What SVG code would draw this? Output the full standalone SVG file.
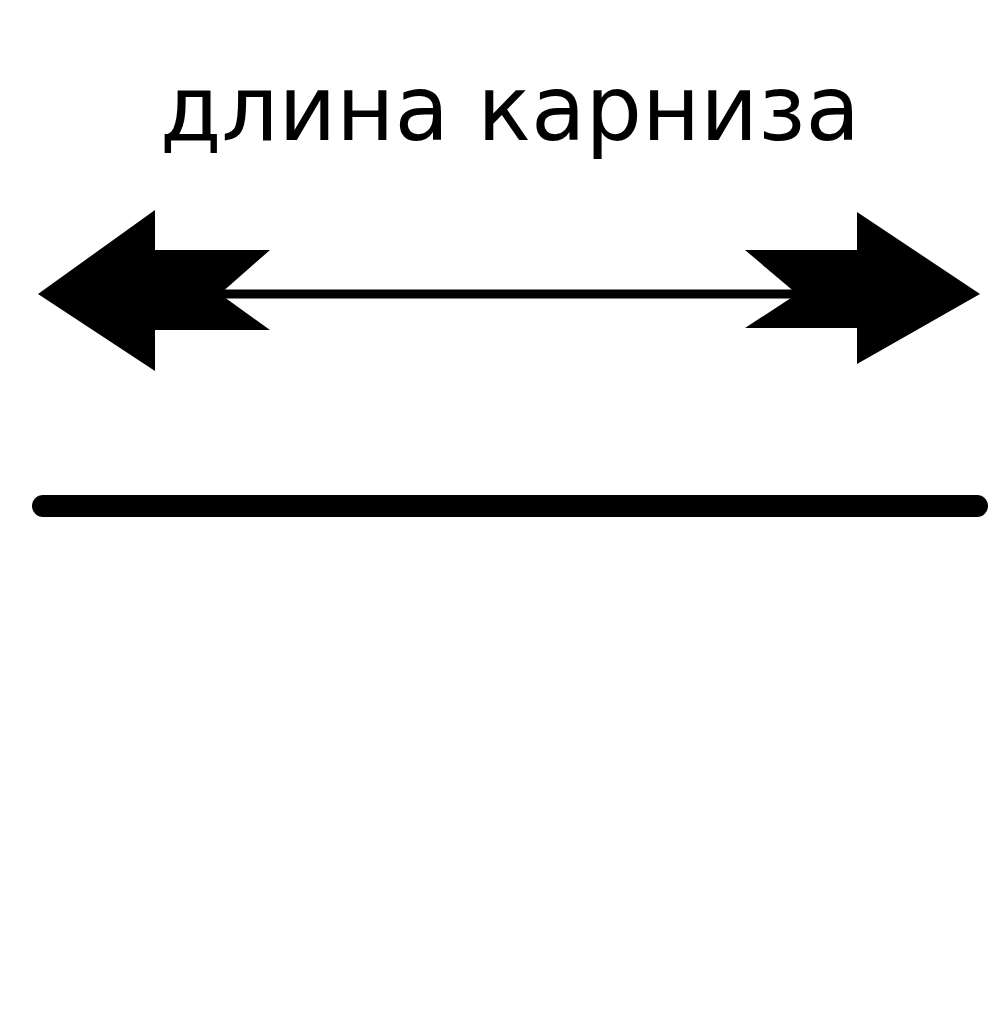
<svg xmlns="http://www.w3.org/2000/svg" width="1000" height="1019" viewBox="0 0 1000 1019">
<style>
.lbl{font-family:"DejaVu Sans","Noto Sans",sans-serif;font-size:90px;fill:#000;text-anchor:middle}
.head{fill:#000;stroke:none}
</style>
<rect width="1000" height="1019" fill="#fff"/>
<g id="label"><text class="lbl" x="510" y="140" textLength="700" lengthAdjust="spacingAndGlyphs">длина карниза</text></g>
<g id="connectors">
<line x1="200" y1="294" x2="810" y2="294" stroke="#000" stroke-width="9"/>
<polygon class="head" points="38,294 155,210 155,250 270,250 220,294 270,330 155,330 155,371"/>
<polygon class="head" points="980,294 857,212 857,250 745,250 797,294 745,328 857,328 857,364"/>
</g>
<g id="cornice"><line x1="43" y1="506" x2="977" y2="506" stroke="#000" stroke-width="22" stroke-linecap="round"/></g>
</svg>
